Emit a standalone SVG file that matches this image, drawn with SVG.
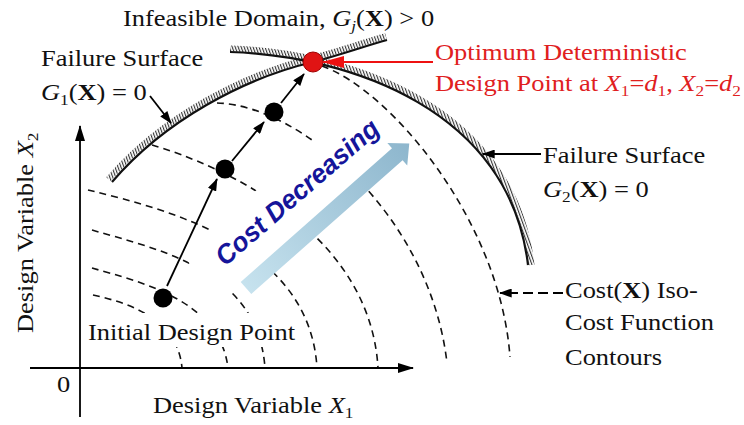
<svg xmlns="http://www.w3.org/2000/svg" width="744" height="425" viewBox="0 0 744 425">
<style>
.t{font-family:"Liberation Serif","Times New Roman",serif;font-size:23px;fill:#111}
.red{fill:#e0201e}
.sub{font-size:15px}
.i{font-style:italic}
.b{font-weight:bold}
.contour{fill:none;stroke:#111;stroke-width:1.6;stroke-dasharray:7 5}
.surf{fill:none;stroke:#111;stroke-width:2.2}
.hatch{fill:none;stroke:url(#hatch);stroke-width:6}
.ln{fill:none;stroke:#000;stroke-width:1.8}
.dot{fill:#000}
</style>
<defs>
<pattern id="hatch" patternUnits="userSpaceOnUse" width="2.8" height="10" patternTransform="rotate(-20)">
<rect x="0" y="0" width="1.1" height="10" fill="#333"/>
</pattern>
<marker id="ah" viewBox="0 0 14 10" refX="13" refY="5" markerWidth="13" markerHeight="9" markerUnits="userSpaceOnUse" orient="auto">
<path d="M0,0 L14,5 L0,10 z" fill="#000"/>
</marker>
<marker id="axh" viewBox="0 0 16 10" refX="15" refY="5" markerWidth="16" markerHeight="10" markerUnits="userSpaceOnUse" orient="auto">
<path d="M0,0 L16,5 L0,10 z" fill="#000"/>
</marker>
<marker id="redh" viewBox="0 0 22 12" refX="21" refY="6" markerWidth="22" markerHeight="12" markerUnits="userSpaceOnUse" orient="auto">
<path d="M0,0 L22,6 L0,12 z" fill="#ee1111"/>
</marker>
<linearGradient id="blueg" x1="0" y1="0" x2="1" y2="0">
<stop offset="0" stop-color="#c6e2ee"/>
<stop offset="1" stop-color="#8db6cd"/>
</linearGradient>
</defs>
<rect width="744" height="425" fill="#fff"/>

<g id="contours">
<path class="contour" d="M93,295 C130,303 178,320 182,368"/>
<path class="contour" d="M92,268 C140,282 220,300 228,368"/>
<path class="contour" d="M92,230 C160,250 258,270 265,368"/>
<path class="contour" d="M88,190 C180,212 310,250 317,368"/>
<path class="contour" d="M152,145 C220,165 370,230 378,368"/>
<path class="contour" d="M217,103 C300,105 430,215 447,363"/>
<path class="contour" d="M322,66 C390,90 500,220 510,357"/>
</g>

<g id="cost-decreasing">
<rect x="-25" y="-38" width="240" height="60" fill="#fff" transform="translate(226,267) rotate(-41)"/>
<g transform="translate(246,288) rotate(-41.5)">
<path d="M0,-8 L202,-8 L202,-15 L218,0 L202,15 L202,8 L0,8 z" fill="url(#blueg)"/>
</g>
<text transform="translate(225,267) rotate(-41)" font-family="'Liberation Sans',Arial,sans-serif" font-size="27" font-weight="bold" font-style="italic" fill="#15159a" textLength="207" lengthAdjust="spacingAndGlyphs">Cost Decreasing</text>
</g>

<g id="axes">
<line class="ln" x1="80" y1="417" x2="80" y2="126" stroke-width="2.2" marker-end="url(#axh)"/>
<line class="ln" x1="30" y1="368" x2="413" y2="368" stroke-width="2.2" marker-end="url(#axh)"/>
<text class="t" transform="translate(57,392) scale(1.15,1)">0</text>
<text class="t" transform="translate(153,413) scale(1.15,1)">Design Variable <tspan class="i">X</tspan><tspan class="sub" dy="5">1</tspan></text>
<text class="t" transform="translate(33,333) rotate(-90) scale(1.15,1)">Design Variable <tspan class="i">X</tspan><tspan class="sub" dy="5">2</tspan></text>
</g>

<g id="g1-surface">
<path class="hatch" d="M108.5,179.2 C161.5,117.4 244.1,74.1 312.1,58.1 C338.9,51.2 363.9,42.2 385.9,36.2"/>
<path class="surf" d="M112,182 C165,120 245,78 313,62 C340,55 365,46 387,40"/>
<text class="t" transform="translate(41,66) scale(1.15,1)">Failure Surface</text>
<text class="t" transform="translate(41,100) scale(1.15,1)"><tspan class="i">G</tspan><tspan class="sub" dy="5">1</tspan><tspan dy="-5">(</tspan><tspan class="b">X</tspan>) = 0</text>
</g>

<g id="g2-surface">
<path class="hatch" d="M230,48.5 C351,52 514,108 531.5,265"/>
<path class="surf" d="M230,52 C350,56 510,110 528,265"/>
<text class="t" transform="translate(543,163) scale(1.15,1)">Failure Surface</text>
<text class="t" transform="translate(543,197) scale(1.15,1)"><tspan class="i">G</tspan><tspan class="sub" dy="5">2</tspan><tspan dy="-5">(</tspan><tspan class="b">X</tspan>) = 0</text>
</g>

<g id="infeasible-label">
<text class="t" transform="translate(123,26) scale(1.15,1)">Infeasible Domain, <tspan class="i">G</tspan><tspan class="sub i" dy="5">j</tspan><tspan dy="-5">(</tspan><tspan class="b">X</tspan>) &gt; 0</text>
</g>

<g id="initial-point">
<rect x="86" y="313" width="210" height="34" fill="#fff"/>
<circle class="dot" cx="163" cy="298" r="9.5"/>
<text class="t" transform="translate(88,340) scale(1.15,1)">Initial Design Point</text>
</g>

<g id="point-2">
<circle class="dot" cx="225" cy="169" r="9.5"/>
</g>

<g id="point-3">
<circle class="dot" cx="274" cy="112" r="9.5"/>
</g>

<g id="optimum">
<circle cx="313" cy="62" r="10" fill="#e01414" stroke="#a00000" stroke-width="1"/>
<text class="t red" transform="translate(435,59.5) scale(1.15,1)">Optimum Deterministic</text>
<text class="t red" transform="translate(435,91) scale(1.15,1)">Design Point at <tspan class="i">X</tspan><tspan class="sub" dy="5">1</tspan><tspan dy="-5">=</tspan><tspan class="i">d</tspan><tspan class="sub" dy="5">1</tspan><tspan dy="-5">, </tspan><tspan class="i">X</tspan><tspan class="sub" dy="5">2</tspan><tspan dy="-5">=</tspan><tspan class="i">d</tspan><tspan class="sub" dy="5">2</tspan></text>
</g>

<g id="cost-label">
<text class="t" transform="translate(565,298) scale(1.15,1)">Cost(<tspan class="b">X</tspan>) Iso-</text>
<text class="t" transform="translate(565,330) scale(1.15,1)">Cost Function</text>
<text class="t" transform="translate(565,365) scale(1.15,1)">Contours</text>
</g>

<g id="connectors">
<line class="ln" x1="167" y1="286" x2="217" y2="179" marker-end="url(#ah)"/>
<line class="ln" x1="232" y1="161" x2="264" y2="122" marker-end="url(#ah)"/>
<line class="ln" x1="281" y1="103" x2="304" y2="74" marker-end="url(#ah)"/>
<line class="ln" x1="150" y1="96" x2="171" y2="123" marker-end="url(#ah)"/>
<line class="ln" x1="541" y1="154" x2="483" y2="154" marker-end="url(#ah)"/>
<line class="ln" x1="563" y1="293" x2="500" y2="293" stroke-dasharray="10 5" marker-end="url(#ah)"/>
<line x1="433" y1="62" x2="323" y2="62" stroke="#ee1111" stroke-width="2" marker-end="url(#redh)"/>
</g>
</svg>
